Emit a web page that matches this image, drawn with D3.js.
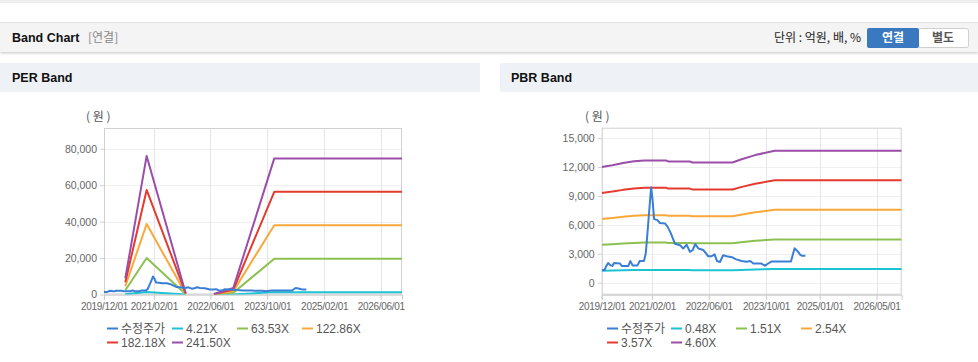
<!DOCTYPE html>
<html><head><meta charset="utf-8">
<script src="https://cdn.jsdelivr.net/npm/d3@7/dist/d3.min.js"></script>
<style>
body{margin:0;background:#fff;}
svg{display:block;font-family:"Liberation Sans",Arial,"Noto Sans CJK KR",sans-serif;}
</style>
</head><body>
<svg id="c" width="978" height="362"></svg>
<script>
// ---------- data ----------
const priceDates = ["2019-12-01","2019-12-25","2020-01-10","2020-01-25","2020-02-15","2020-03-01","2020-03-15","2020-05-05","2020-05-20","2020-07-15","2020-08-01","2020-08-20","2020-10-01","2020-10-20","2020-11-25","2020-12-10","2020-12-20","2021-01-05","2021-01-25","2021-02-05","2021-02-20","2021-03-20","2021-04-10","2021-05-25","2021-06-15","2021-07-10","2021-08-16","2021-09-28","2021-10-26","2021-11-24","2021-12-22","2022-01-15","2022-02-05","2022-03-05","2022-04-14","2022-05-27","2022-06-25","2022-07-20","2022-08-10","2022-09-04","2022-10-01","2022-10-31","2022-12-15","2023-01-15","2023-03-07","2023-04-19","2023-05-20","2023-06-15","2023-07-13","2023-08-20","2023-09-22","2023-10-20","2023-11-15","2024-05-01","2024-06-01","2024-06-25","2024-07-20","2024-08-05","2024-09-01"];
const priceValues = [1320,1320,1750,2050,1800,1750,2050,2000,1750,1750,2250,1800,1800,2250,2250,3000,4400,6850,9900,8800,6600,6500,6200,6150,5800,5200,4050,3900,3550,3950,3200,3400,4000,3550,3400,2750,2750,2950,2250,2150,2850,2750,2650,2450,2250,2180,2250,2000,2000,2000,1770,2000,2200,2200,3570,3300,2900,2800,2800];

const perDates = ["2020-06-01","2020-12-01","2021-11-01","2022-03-01","2022-07-01","2022-12-15","2023-12-01","2026-12-01"];
const per421  = [156, 1326, 13, null, 4, 63, 1303, 1303];
const per6353 = [2351, 20012, 191, null, 64, 953, 19656, 19656];
const per12286 = [4546, 38701, 369, null, 123, 1843, 38013, 38013];
const per18218 = [6741, 57387, 547, null, 182, 2733, 56366, 56366];
const per24150 = [8936, 76073, 725, null, 242, 3623, 74720, 74720];

const pbrDates = ["2019-12-01","2020-03-01","2020-06-01","2020-09-01","2020-12-01","2021-06-01","2021-06-20","2021-12-20","2022-01-10","2022-12-20","2023-03-01","2023-07-01","2023-12-15","2026-12-01"];
const pbr048 = [1252,1272,1296,1315,1325,1325,1314,1314,1302,1302,1334,1382,1429,1429];
const pbr151 = [3940,4002,4077,4137,4168,4168,4133,4133,4097,4097,4198,4349,4497,4497];
const pbr254 = [6627,6731,6858,6960,7010,7010,6952,6952,6891,6891,7061,7315,7564,7564];
const pbr357 = [9314,9461,9639,9782,9853,9853,9771,9771,9685,9685,9925,10282,10631,10631];
const pbr460 = [12001,12190,12420,12604,12696,12696,12590,12590,12480,12480,12788,13248,13699,13699];

const perLegend = ["수정주가","4.21X","63.53X","122.86X","182.18X","241.50X"];
const pbrLegend = ["수정주가","0.48X","1.51X","2.54X","3.57X","4.60X"];
const perXTicks = ["2019/12/01","2021/02/01","2022/06/01","2023/10/01","2025/02/01","2026/06/01"];
const pbrXTicks = ["2019/12/01","2021/02/01","2022/06/01","2023/10/01","2025/01/01","2026/05/01"];
const perYTicks = [0,20000,40000,60000,80000];
const pbrYTicks = [0,3000,6000,9000,12000,15000];

const colors = ["#3a7fd5","#1cc3d3","#8cc152","#f9a839","#e43a2f","#9b4ea9"];

// ---------- page chrome ----------
const svg = d3.select("#c");
const parse = d3.timeParse("%Y-%m-%d");
const parseT = d3.timeParse("%Y/%m/%d");

svg.append("rect").attr("x",0).attr("y",0).attr("width",978).attr("height",3).attr("fill","#eeeeee");
const defs = svg.append("defs");
const f = defs.append("filter").attr("id","sh").attr("x","-5%").attr("y","-30%").attr("width","110%").attr("height","170%");
f.append("feDropShadow").attr("dx",0).attr("dy",1.5).attr("stdDeviation",1.2).attr("flood-color","#000").attr("flood-opacity",0.18);

svg.append("rect").attr("x",0).attr("y",22).attr("width",978).attr("height",30).attr("fill","#f4f4f4").attr("filter","url(#sh)");
svg.append("line").attr("x1",0).attr("x2",978).attr("y1",22.5).attr("y2",22.5).attr("stroke","#e2e2e2");
svg.append("text").attr("x",12).attr("y",42).attr("font-size",12.5).attr("font-weight","bold").attr("fill","#111").text("Band Chart");
svg.append("text").attr("x",88).attr("y",42).attr("font-size",12).attr("fill","#888").attr("font-family","'Noto Sans CJK KR',sans-serif").text("[연결]");
svg.append("text").attr("x",861).attr("y",42).attr("text-anchor","end").attr("font-size",12).attr("fill","#222").attr("font-family","'Noto Sans CJK KR',sans-serif").text("단위 : 억원, 배, %");
svg.append("rect").attr("x",918.5).attr("y",28.5).attr("width",50).attr("height",19).attr("rx",2).attr("fill","#fff").attr("stroke","#cfcfcf");
svg.append("rect").attr("x",867).attr("y",28).attr("width",52).attr("height",20).attr("rx",2).attr("fill","#3a78bf");
svg.append("text").attr("x",893).attr("y",42).attr("text-anchor","middle").attr("font-size",12).attr("font-weight","bold").attr("fill","#fff").attr("font-family","'Noto Sans CJK KR',sans-serif").text("연결");
svg.append("text").attr("x",943).attr("y",42).attr("text-anchor","middle").attr("font-size",12).attr("font-weight","bold").attr("fill","#555").attr("font-family","'Noto Sans CJK KR',sans-serif").text("별도");

svg.append("rect").attr("x",0).attr("y",63).attr("width",480).attr("height",29).attr("fill","#eef2f7");
svg.append("rect").attr("x",500).attr("y",63).attr("width",478).attr("height",29).attr("fill","#eef2f7");
svg.append("text").attr("x",12).attr("y",82).attr("font-size",12.5).attr("font-weight","bold").attr("fill","#111").text("PER Band");
svg.append("text").attr("x",511).attr("y",82).attr("font-size",12.5).attr("font-weight","bold").attr("fill","#111").text("PBR Band");

// ---------- chart ----------
function drawChart(cfg){
  const g = svg.append("g");
  const x = d3.scaleTime().domain([parse("2019-12-01"), parse("2026-12-01")]).range([cfg.left, cfg.right]);
  const y = d3.scaleLinear().domain(cfg.yDomain).range([cfg.bottom, cfg.top]);
  const cid = "clip"+cfg.id;
  defs.append("clipPath").attr("id",cid).append("rect")
    .attr("x",cfg.left).attr("y",cfg.top).attr("width",cfg.right-cfg.left).attr("height",cfg.bottom-cfg.top);

  // grid
  g.selectAll(".hg").data(cfg.yTicks).join("line")
    .attr("x1",cfg.left).attr("x2",cfg.right)
    .attr("y1",d=>Math.round(y(d))+0.5).attr("y2",d=>Math.round(y(d))+0.5)
    .attr("stroke","#f0f0f0");
  g.selectAll(".vg").data(cfg.xTicks).join("line")
    .attr("x1",d=>Math.round(x(parseT(d)))+0.5).attr("x2",d=>Math.round(x(parseT(d)))+0.5)
    .attr("y1",cfg.top).attr("y2",cfg.bottom)
    .attr("stroke","#e6e6e6");
  g.append("rect").attr("x",cfg.left+0.5).attr("y",cfg.top+0.5)
    .attr("width",cfg.right-cfg.left-1).attr("height",cfg.bottom-cfg.top-1)
    .attr("fill","none").attr("stroke","#d0d0d0");

  // x axis
  const xa = d3.axisBottom(x).tickValues(cfg.xTicks.map(parseT)).tickFormat(d3.timeFormat("%Y/%m/%d")).tickSize(5).tickPadding(3);
  const xg = g.append("g").attr("transform",`translate(0,${cfg.bottom})`).call(xa);
  xg.select(".domain").attr("stroke","#c8c8c8");
  xg.selectAll(".tick line").attr("stroke","#c8c8c8");
  xg.selectAll(".tick text").attr("fill","#666").attr("font-size",10).attr("letter-spacing","-0.3px")
    .attr("font-family","'Liberation Sans',Arial,sans-serif");

  // y axis
  const ya = d3.axisLeft(y).tickValues(cfg.yTicks).tickFormat(d3.format(",")).tickSize(4).tickPadding(3);
  const yg = g.append("g").attr("transform",`translate(${cfg.left},0)`).call(ya);
  yg.select(".domain").remove();
  yg.selectAll(".tick line").attr("stroke","#d0d0d0");
  yg.selectAll(".tick text").attr("fill","#666").attr("font-size",10.5).attr("font-family","'Liberation Sans',Arial,sans-serif");

  g.append("text").attr("x",cfg.unitX).attr("y",121).attr("font-size",12).attr("fill","#555")
    .attr("font-family","'Noto Sans CJK KR',sans-serif").text("( 원 )");

  // lines
  const lg = g.append("g").attr("clip-path",`url(#${cid})`);
  const line = d3.line().defined(d=>d.v!==null).x(d=>x(d.t)).y(d=>y(d.v));
  cfg.bands.forEach((arr,i)=>{
    const pts = cfg.bandDates.map((d,j)=>({t:parse(d), v:arr[j]}));
    lg.append("path").datum(pts).attr("d",line).attr("fill","none")
      .attr("stroke",colors[i+1]).attr("stroke-width",2).attr("stroke-linejoin","round");
  });
  const pp = priceDates.map((d,j)=>({t:parse(d), v:priceValues[j]}));
  lg.append("path").datum(pp).attr("d",line).attr("fill","none")
    .attr("stroke",colors[0]).attr("stroke-width",2).attr("stroke-linejoin","round");

  // legend
  cfg.legend.forEach((name,i)=>{
    const row = i<4?0:1, col = i<4?i:i-4;
    const tx = cfg.legendX[col], ty = row===0?333:347;
    g.append("line").attr("x1",tx-14).attr("x2",tx-3).attr("y1",ty-4.5).attr("y2",ty-4.5)
      .attr("stroke",colors[i]).attr("stroke-width",2);
    g.append("text").attr("x",tx).attr("y",ty).attr("font-size",12).attr("fill","#555")
      .attr("font-family", i===0?"'Noto Sans CJK KR',sans-serif":"'Liberation Sans',Arial,sans-serif")
      .text(name);
  });
}

drawChart({id:"per", left:104, right:402, top:128, bottom:294.5, yDomain:[0,91400],
  yTicks:perYTicks, xTicks:perXTicks, bandDates:perDates,
  bands:[per421,per6353,per12286,per18218,per24150], legend:perLegend,
  legendX:[121,186,251,316], unitX:86});
drawChart({id:"pbr", left:601.7, right:901.7, top:127.7, bottom:294.7, yDomain:[-1240,16090],
  yTicks:pbrYTicks, xTicks:pbrXTicks, bandDates:pbrDates,
  bands:[pbr048,pbr151,pbr254,pbr357,pbr460], legend:pbrLegend,
  legendX:[621,685,750,815], unitX:585});
</script>
</body></html>
